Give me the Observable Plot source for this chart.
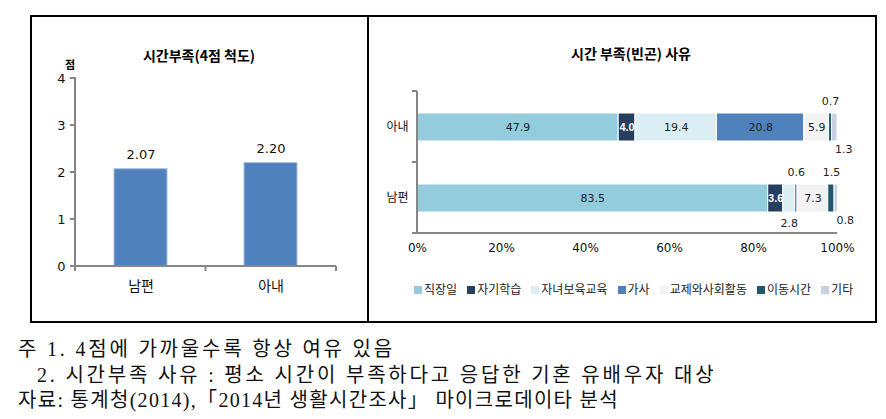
<!DOCTYPE html>
<html><head><meta charset="utf-8">
<script src="https://cdn.jsdelivr.net/npm/d3@7"></script>
<script src="https://cdn.jsdelivr.net/npm/@observablehq/plot@0.6"></script>
<style>
body{margin:0;background:#fff;}
#wrap{position:relative;width:886px;height:419px;font-family:"DejaVu Sans","Noto Sans CJK KR",sans-serif;}
#box{position:absolute;left:30px;top:15px;width:843px;height:304px;border:2px solid #000;}
#divider{position:absolute;left:367px;top:15px;width:2px;height:306px;background:#000;}
.pl{position:absolute;top:15px;}
.title{position:absolute;font-weight:bold;font-size:14px;font-family:"Noto Sans CJK KR",sans-serif;transform:translate(-50%,-50%);white-space:nowrap;}
#legend{position:absolute;left:414px;top:281px;display:flex;gap:10px;font-family:"Noto Sans CJK KR",sans-serif;font-size:12px;color:#222;line-height:15px;}
#legend span.sw{display:inline-block;width:8px;height:8px;margin-right:2px;vertical-align:0px;}
.note{position:absolute;font-family:"Liberation Serif","Noto Sans CJK KR",serif;font-size:20px;letter-spacing:2.8px;white-space:nowrap;color:#111;line-height:20px;}
</style></head>
<body><div id="wrap">
<div id="box"></div><div id="divider"></div>
<div id="left" class="pl" style="left:30px"></div>
<div id="right" class="pl" style="left:368px"></div>
<div class="title" style="left:199px;top:55px">시간부족(4점 척도)</div>
<div class="title" style="left:70px;top:64px;font-size:11px">점</div>
<div class="title" style="left:631px;top:53px">시간 부족(빈곤) 사유</div>
<div id="legend"></div>
<div class="note" style="left:18px;top:339px">주 1. 4점에 가까울수록 항상 여유 있음</div>
<div class="note" style="left:37px;top:365px">2. 시간부족 사유 : 평소 시간이 부족하다고 응답한 기혼 유배우자 대상</div>
<div class="note" style="left:18px;top:390px;letter-spacing:1.3px">자료: 통계청(2014),「2014년 생활시간조사」 마이크로데이타 분석</div>
</div>
<script>
// ---- data ----
const scoreCats = ["남편", "아내"];
const scoreVals = [2.07, 2.20];
const scoreTicks = [0, 1, 2, 3, 4];

const groups = ["아내", "남편"];
const reasonCats = ["직장일", "자기학습", "자녀보육교육", "가사", "교제와사회활동", "이동시간", "기타"];
const wifeShares = [47.9, 4.0, 19.4, 20.8, 5.9, 0.7, 1.3];
const husbandShares = [83.5, 3.6, 2.8, 0.6, 7.3, 1.5, 0.8];
const pctTicks = [0, 20, 40, 60, 80, 100];

// ---- styles ----
const reasonColors = ["#93CDDD", "#263F61", "#DBEEF4", "#4F81BD", "#F2F2F2", "#215968", "#C6D1E2"];
const darkCats = ["자기학습", "이동시간"];
const aboveCats = ["가사", "이동시간"];
const axisGray = "#868686";

const scoreRows = scoreCats.map((c, i) => ({cat: c, v: scoreVals[i]}));
const shareRows = [];
groups.forEach(g => {
  const arr = g === "아내" ? wifeShares : husbandShares;
  reasonCats.forEach((r, i) => shareRows.push({group: g, reason: r, value: arr[i]}));
});

function line(g, x1, y1, x2, y2) {
  g.append("line").attr("x1", x1).attr("y1", y1).attr("x2", x2).attr("y2", y2)
    .attr("stroke", axisGray).attr("stroke-width", 2);
}

// ---- left chart ----
const leftAxes = (index, scales, values, dims) => {
  const g = d3.create("svg:g");
  const l = dims.marginLeft, r = dims.width - dims.marginRight;
  const t = dims.marginTop, b = dims.height - dims.marginBottom;
  line(g, l, t - 1, l, b);
  line(g, l - 1, b, r, b);
  [l, (l + r) / 2, r].forEach(x => line(g, x, b, x, b + 5));
  scoreTicks.forEach(v => line(g, l - 5, scales.y(v), l, scales.y(v)));
  return g.node();
};
const left = Plot.plot({
  width: 338, height: 306,
  marginLeft: 45, marginRight: 32, marginTop: 63, marginBottom: 55,
  style: {fontFamily: "DejaVu Sans, Noto Sans CJK KR, sans-serif", fontSize: "13px", color: "#111", background: "transparent"},
  x: {domain: scoreCats, paddingInner: 0.594, paddingOuter: 0.297, label: null},
  y: {domain: [0, 4], label: null},
  marks: [
    Plot.barY(scoreRows, {x: "cat", y: "v", fill: "#4F81BD", stroke: "#A9C0DE", strokeWidth: 1}),
    Plot.text(scoreRows, {x: "cat", y: "v", text: d => d.v.toFixed(2), dy: -14, fontSize: 13}),
    Plot.axisY({ticks: scoreTicks, tickSize: 0, tickPadding: 10, tickFormat: d => d, fontSize: 13, label: null}),
    Plot.axisX({tickSize: 0, tickPadding: 15, fontSize: 14, label: null, fontFamily: "Noto Sans CJK KR"}),
    leftAxes
  ]
});
document.getElementById("left").appendChild(left);

// ---- right chart ----
const rightAxes = (index, scales, values, dims) => {
  const g = d3.create("svg:g");
  const x0 = scales.x(0), x1 = scales.x(100);
  const t = dims.marginTop, b = dims.height - dims.marginBottom;
  line(g, x0, t, x0, b);
  line(g, x0 - 5, b, x1, b);
  [t, (t + b) / 2, b].forEach(y => line(g, x0 - 5, y, x0, y));
  return g.node();
};
const stackOpts = (extra) => Plot.stackX({x: "value", y: "group", z: "reason", order: reasonCats, ...extra});
const right = Plot.plot({
  width: 507, height: 306,
  marginLeft: 49, marginRight: 38, marginTop: 76, marginBottom: 88,
  style: {fontFamily: "DejaVu Sans, Noto Sans CJK KR, sans-serif", fontSize: "12px", color: "#111", background: "transparent"},
  x: {domain: [0, 100], label: null},
  y: {domain: groups, paddingInner: 0.606, paddingOuter: 0.303, label: null},
  color: {domain: reasonCats, range: reasonColors},
  marks: [
    Plot.barX(shareRows, stackOpts({fill: "reason", stroke: "#ffffff", strokeWidth: 1})),
    Plot.text(shareRows, stackOpts({text: d => d.value >= 3 && !darkCats.includes(d.reason) ? d.value.toFixed(1) : "", fontSize: 11, fill: "#222"})),
    Plot.text(shareRows, stackOpts({text: d => d.value >= 3 && darkCats.includes(d.reason) ? d.value.toFixed(1) : "", fontSize: 11, fill: "white", fontFamily: "Liberation Sans", fontWeight: "bold"})),
    Plot.text(shareRows, stackOpts({text: d => d.value < 3 && aboveCats.includes(d.reason) ? d.value.toFixed(1) : "", fontSize: 11, fill: "#222", dy: -26})),
    Plot.text(shareRows, stackOpts({text: d => d.value < 3 && !aboveCats.includes(d.reason) && d.reason !== "기타" ? d.value.toFixed(1) : "", fontSize: 11, fill: "#222", dy: 25})),
    Plot.text(shareRows, stackOpts({text: d => d.value < 3 && d.reason === "기타" ? d.value.toFixed(1) : "", fontSize: 11, fill: "#222", dy: 22, dx: 9})),
    Plot.axisX({ticks: pctTicks, tickSize: 0, tickPadding: 10, tickFormat: d => d + "%", fontSize: 12, label: null}),
    Plot.axisY({tickSize: 0, tickPadding: 9, fontSize: 12, label: null, fontFamily: "Noto Sans CJK KR"}),
    rightAxes
  ]
});
document.getElementById("right").appendChild(right);

// ---- legend ----
const leg = document.getElementById("legend");
reasonCats.forEach((c, i) => {
  const it = document.createElement("div");
  it.innerHTML = `<span class="sw" style="background:${reasonColors[i]}"></span>${c}`;
  leg.appendChild(it);
});
</script>
</body></html>
